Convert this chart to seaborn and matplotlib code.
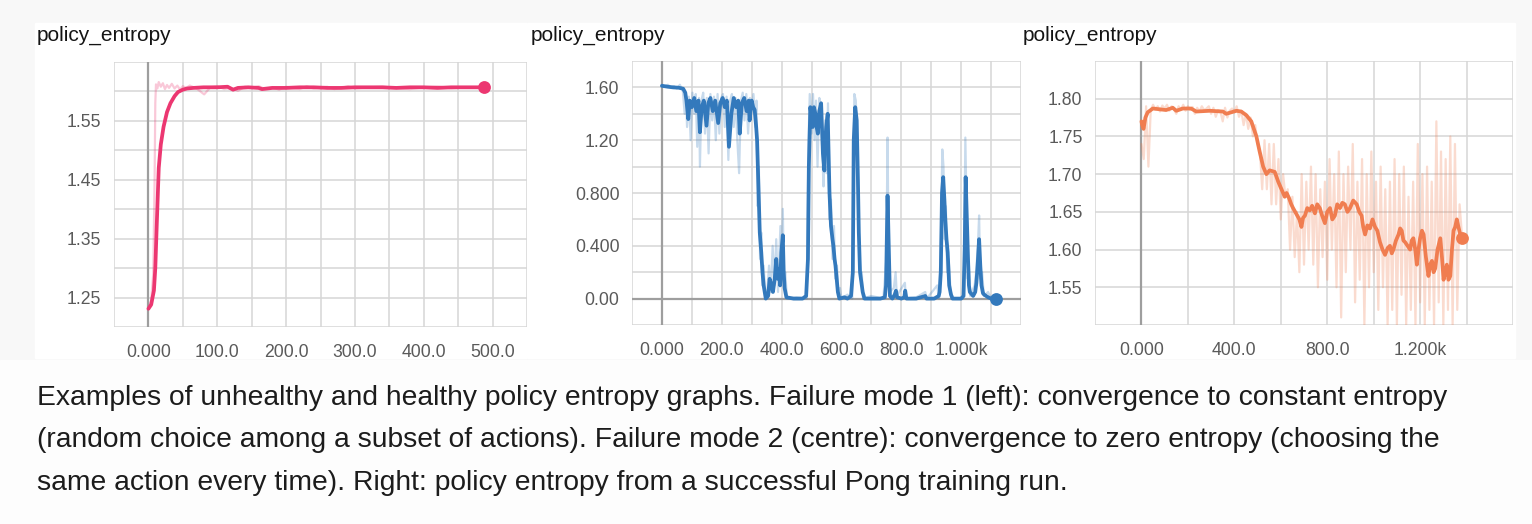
import matplotlib

matplotlib.use("Agg")
import matplotlib.pyplot as plt
import seaborn as sns
from matplotlib.patches import Rectangle

W, H = 1532, 524

# ---- left panel: converges to constant entropy ----
left_raw_x = [0, 4, 7, 9, 10, 11, 13, 15, 18, 21,
              24, 27, 30, 34, 38, 42, 46, 50, 55, 60,
              70, 81, 90, 100, 110, 120, 130, 140, 150, 160,
              170, 180, 190, 200, 210, 220, 230, 240, 250, 260,
              270, 280, 290, 300, 320, 340, 360, 380, 400, 420,
              440, 460, 480, 487]
left_raw_y = [1.231, 1.245, 1.29, 1.45, 1.58, 1.612, 1.605, 1.616, 1.608, 1.614,
              1.604, 1.611, 1.606, 1.613, 1.605, 1.610, 1.603, 1.609, 1.606, 1.610,
              1.605, 1.595, 1.607, 1.609, 1.604, 1.606, 1.601, 1.608, 1.606, 1.609,
              1.604, 1.607, 1.603, 1.608, 1.606, 1.604, 1.609, 1.605, 1.607, 1.608,
              1.604, 1.606, 1.609, 1.605, 1.607, 1.608, 1.606, 1.604, 1.607, 1.609,
              1.605, 1.607, 1.606, 1.607]
left_x = [0, 4, 8, 10, 12, 15, 18, 22, 27, 32,
          38, 43, 50, 56, 65, 80, 100, 115, 123, 130,
          145, 160, 165, 180, 200, 220, 240, 260, 280, 300,
          320, 340, 360, 380, 400, 420, 440, 460, 487]
left_y = [1.231, 1.238, 1.262, 1.30, 1.37, 1.47, 1.51, 1.54, 1.565, 1.58,
          1.592, 1.599, 1.603, 1.605, 1.606, 1.607, 1.607, 1.608, 1.603, 1.606,
          1.607, 1.606, 1.604, 1.606, 1.606, 1.607, 1.607, 1.606, 1.606, 1.607,
          1.607, 1.607, 1.606, 1.607, 1.607, 1.606, 1.607, 1.607, 1.607]

# ---- middle panel: collapses to zero entropy ----
mid_raw_x = [0, 10, 20, 30, 40, 50, 60, 70, 76, 80,
             84, 90, 96, 102, 108, 113, 118, 124, 127, 132,
             138, 144, 150, 156, 162, 168, 174, 180, 186, 192,
             198, 204, 210, 216, 222, 228, 234, 240, 246, 252,
             258, 264, 270, 276, 282, 288, 294, 300, 306, 312,
             316, 320, 324, 328, 332, 336, 340, 346, 352, 358,
             364, 370, 376, 382, 388, 392, 396, 400, 404, 408,
             412, 418, 450, 484, 486, 490, 494, 500, 505, 510,
             515, 520, 526, 532, 536, 540, 545, 550, 555, 560,
             565, 570, 575, 580, 585, 590, 595, 600, 620, 636,
             640, 643, 648, 652, 656, 660, 664, 668, 672, 700,
             740, 750, 754, 757, 760, 775, 781, 785, 812, 815,
             850, 880, 885, 920, 926, 932, 937, 941, 945, 949,
             953, 958, 965, 975, 1005, 1010, 1014, 1018, 1022, 1026,
             1030, 1045, 1050, 1056, 1060, 1064, 1070, 1076, 1090, 1100,
             1115]
mid_raw_y = [1.62, 1.61, 1.62, 1.60, 1.61, 1.59, 1.62, 1.57, 1.40, 1.55,
             1.30, 1.53, 1.20, 1.56, 1.40, 1.55, 1.15, 1.52, 1.00, 1.50,
             1.56, 1.25, 1.52, 1.10, 1.55, 1.35, 1.53, 1.20, 1.55, 1.25,
             1.52, 1.55, 1.30, 1.53, 1.05, 1.50, 1.55, 1.30, 1.52, 1.20,
             0.95, 1.50, 1.56, 1.35, 1.55, 1.25, 1.52, 1.45, 1.55, 1.30,
             1.50, 0.70, 1.00, 0.30, 0.50, 0.10, 0.25, 0.00, 0.05, 0.25,
             0.05, 0.40, 0.10, 0.45, 0.05, 0.30, 0.55, 0.15, 0.68, 0.10,
             0.20, 0.00, 0.01, 0.00, 0.40, 1.20, 1.55, 1.25, 1.55, 1.20,
             1.50, 1.00, 1.52, 1.45, 1.10, 0.85, 1.35, 0.95, 1.48, 0.60,
             0.75, 0.30, 0.55, 0.15, 0.25, 0.02, 0.08, 0.00, 0.03, 0.00,
             0.80, 1.55, 1.50, 1.20, 0.70, 0.35, 0.15, 0.20, 0.00, 0.02,
             0.00, 0.30, 1.22, 0.50, 0.05, 0.08, 0.20, 0.02, 0.12, 0.00,
             0.01, 0.05, 0.00, 0.10, 0.00, 0.40, 1.13, 1.00, 0.45, 0.70,
             0.20, 0.30, 0.05, 0.00, 0.00, 0.25, 1.22, 0.70, 0.15, 0.25,
             0.02, 0.10, 0.20, 0.40, 0.63, 0.15, 0.20, 0.02, 0.05, 0.00,
             0.00]
mid_x = [0, 20, 38, 55, 71, 78, 82, 88, 93, 100,
         108, 115, 122, 127, 133, 140, 149, 155, 162, 170,
         178, 188, 195, 203, 210, 217, 224, 232, 240, 248,
         255, 260, 267, 275, 283, 290, 293, 300, 305, 310,
         315, 318, 322, 327, 332, 336, 340, 347, 355, 360,
         366, 371, 377, 382, 387, 391, 395, 399, 404, 407,
         410, 416, 440, 470, 482, 488, 491, 496, 500, 504,
         508, 513, 517, 521, 526, 532, 535, 538, 543, 546,
         549, 554, 557, 560, 565, 570, 573, 577, 580, 584,
         588, 593, 610, 620, 632, 638, 641, 646, 651, 655,
         658, 662, 667, 671, 677, 700, 730, 745, 749, 754,
         758, 762, 770, 778, 782, 786, 800, 810, 813, 817,
         850, 880, 884, 910, 925, 928, 932, 936, 940, 944,
         947, 951, 955, 960, 966, 971, 1000, 1008, 1012, 1015,
         1019, 1023, 1026, 1029, 1040, 1047, 1051, 1055, 1060, 1064,
         1068, 1073, 1077, 1090, 1100, 1115]
mid_y = [1.612, 1.605, 1.600, 1.598, 1.590, 1.560, 1.50, 1.36, 1.50, 1.45,
         1.52, 1.42, 1.50, 1.26, 1.45, 1.50, 1.31, 1.48, 1.52, 1.42,
         1.50, 1.33, 1.48, 1.52, 1.45, 1.50, 1.15, 1.40, 1.52, 1.45,
         1.50, 1.25, 1.48, 1.52, 1.42, 1.50, 1.35, 1.50, 1.45, 1.43,
         1.30, 1.20, 0.90, 0.50, 0.35, 0.20, 0.10, 0.00, 0.02, 0.15,
         0.10, 0.05, 0.15, 0.30, 0.15, 0.22, 0.10, 0.35, 0.48, 0.20,
         0.08, 0.01, 0.00, 0.00, 0.02, 0.30, 1.00, 1.45, 1.38, 1.30,
         1.45, 1.40, 1.30, 1.25, 1.42, 1.48, 1.30, 1.10, 0.97, 1.20,
         1.30, 1.40, 1.10, 0.80, 0.55, 0.45, 0.40, 0.30, 0.25, 0.15,
         0.05, 0.00, 0.01, 0.00, 0.02, 0.20, 1.20, 1.45, 1.35, 0.90,
         0.50, 0.20, 0.12, 0.05, 0.00, 0.00, 0.00, 0.01, 0.10, 0.78,
         0.40, 0.02, 0.00, 0.03, 0.06, 0.01, 0.00, 0.01, 0.06, 0.00,
         0.00, 0.02, 0.00, 0.00, 0.02, 0.05, 0.20, 0.80, 0.92, 0.75,
         0.60, 0.45, 0.35, 0.10, 0.03, 0.00, 0.00, 0.02, 0.40, 0.92,
         0.60, 0.30, 0.10, 0.05, 0.02, 0.05, 0.12, 0.25, 0.45, 0.25,
         0.10, 0.04, 0.03, 0.01, 0.00, 0.00]

# ---- right panel: healthy Pong run ----
right_raw_x = [0, 10, 20, 30, 40, 50, 60, 70, 80, 90,
               100, 110, 120, 130, 140, 150, 160, 170, 180, 190,
               200, 210, 220, 230, 240, 250, 260, 270, 280, 290,
               300, 310, 320, 330, 340, 350, 360, 370, 380, 390,
               400, 410, 420, 430, 440, 450, 460, 470, 480, 490,
               500, 510, 520, 530, 540, 550, 560, 570, 580, 590,
               600, 610, 620, 630, 640, 650, 660, 670, 680, 690,
               700, 710, 720, 730, 740, 750, 760, 770, 780, 790,
               800, 810, 820, 830, 840, 850, 860, 870, 880, 890,
               900, 910, 920, 930, 940, 950, 960, 970, 980, 990,
               1000, 1010, 1020, 1030, 1040, 1050, 1060, 1070, 1080, 1090,
               1100, 1110, 1120, 1130, 1140, 1150, 1160, 1170, 1180, 1190,
               1200, 1210, 1220, 1230, 1240, 1250, 1260, 1270, 1280, 1290,
               1300, 1310, 1320, 1330, 1340, 1350, 1360, 1370, 1380]
right_raw_y = [1.74, 1.72, 1.79, 1.71, 1.785, 1.792, 1.786, 1.79, 1.783, 1.791,
               1.787, 1.792, 1.784, 1.79, 1.786, 1.78, 1.79, 1.786, 1.792, 1.784,
               1.79, 1.785, 1.789, 1.78, 1.788, 1.783, 1.79, 1.785, 1.787, 1.79,
               1.78, 1.788, 1.776, 1.785, 1.783, 1.77, 1.788, 1.775, 1.784, 1.787,
               1.782, 1.79, 1.776, 1.784, 1.765, 1.78, 1.76, 1.775, 1.75, 1.765,
               1.74, 1.73, 1.68, 1.745, 1.68, 1.74, 1.66, 1.74, 1.66, 1.72,
               1.64, 1.70, 1.67, 1.68, 1.60, 1.67, 1.59, 1.65, 1.57, 1.70,
               1.58, 1.69, 1.60, 1.71, 1.58, 1.70, 1.55, 1.68, 1.59, 1.69,
               1.56, 1.72, 1.60, 1.70, 1.55, 1.73, 1.51, 1.70, 1.57, 1.71,
               1.60, 1.74, 1.53, 1.69, 1.56, 1.72, 1.50, 1.70, 1.55, 1.73,
               1.57, 1.69, 1.52, 1.71, 1.55, 1.68, 1.50, 1.69, 1.52, 1.72,
               1.50, 1.70, 1.54, 1.71, 1.50, 1.67, 1.52, 1.69, 1.50, 1.74,
               1.53, 1.70, 1.50, 1.71, 1.52, 1.69, 1.50, 1.77, 1.53, 1.73,
               1.50, 1.72, 1.52, 1.75, 1.50, 1.74, 1.52, 1.66, 1.62]
right_x = [0, 3, 9, 17, 27, 49, 78, 106, 135, 150,
           178, 214, 236, 294, 351, 365, 409, 430, 452, 473,
           495, 509, 524, 538, 552, 574, 589, 603,
           617, 625, 636, 645, 653, 662, 671, 680, 689, 696,
           704, 714, 725, 735, 747, 757, 768, 778, 790, 800,
           812, 822, 833, 843, 855, 865, 876, 887, 898, 912,
           927, 938, 948, 955, 963, 973, 984, 995, 1006, 1016,
           1027, 1038, 1049, 1060, 1070, 1078, 1085, 1096, 1107, 1114,
           1121, 1128, 1135, 1146, 1157, 1164, 1171, 1179, 1186, 1193,
           1200, 1208, 1215, 1225, 1236, 1243, 1251, 1258, 1265, 1275,
           1287, 1294, 1301, 1308, 1315, 1322, 1330, 1337, 1344, 1351,
           1358, 1365, 1373, 1380]
right_y = [1.770, 1.765, 1.760, 1.775, 1.782, 1.787, 1.786, 1.785, 1.788, 1.784,
           1.787, 1.787, 1.783, 1.784, 1.783, 1.780, 1.784, 1.783, 1.778, 1.770,
           1.750, 1.730, 1.710, 1.700, 1.705, 1.703, 1.690, 1.680,
           1.670, 1.675, 1.668, 1.660, 1.655, 1.650, 1.645, 1.640, 1.630, 1.642,
           1.645, 1.655, 1.652, 1.658, 1.648, 1.660, 1.655, 1.645, 1.635, 1.650,
           1.655, 1.640, 1.645, 1.660, 1.655, 1.662, 1.660, 1.650, 1.655, 1.665,
           1.660, 1.650, 1.645, 1.630, 1.620, 1.632, 1.628, 1.640, 1.630, 1.625,
           1.610, 1.600, 1.593, 1.602, 1.605, 1.595, 1.600, 1.612, 1.620, 1.628,
           1.625, 1.612, 1.610, 1.605, 1.600, 1.612, 1.615, 1.600, 1.580, 1.600,
           1.615, 1.625, 1.620, 1.590, 1.565, 1.580, 1.585, 1.570, 1.575, 1.600,
           1.615, 1.590, 1.560, 1.570, 1.580, 1.560, 1.565, 1.600, 1.625, 1.630,
           1.640, 1.630, 1.620, 1.615]

# ---- ticks and labels ----
left_xticks = [-50, 0, 50, 100, 150, 200, 250, 300, 350, 400, 450, 500, 550]
left_xlabels = ["", "0.000", "", "100.0", "", "200.0", "", "300.0", "", "400.0", "", "500.0", ""]
left_yticks = [1.20, 1.25, 1.30, 1.35, 1.40, 1.45, 1.50, 1.55, 1.60, 1.65]
left_ylabels = ["", "1.25", "", "1.35", "", "1.45", "", "1.55", "", ""]

mid_xticks = [-100, 0, 100, 200, 300, 400, 500, 600, 700, 800, 900, 1000, 1100, 1200]
mid_xlabels = ["", "0.000", "", "200.0", "", "400.0", "", "600.0", "", "800.0", "", "1.000k", "", ""]
mid_yticks = [-0.2, 0.0, 0.2, 0.4, 0.6, 0.8, 1.0, 1.2, 1.4, 1.6, 1.8]
mid_ylabels = ["", "0.00", "", "0.400", "", "0.800", "", "1.20", "", "1.60", ""]

right_xticks = [-200, 0, 200, 400, 600, 800, 1000, 1200, 1400, 1600]
right_xlabels = ["", "0.000", "", "400.0", "", "800.0", "", "1.200k", "", ""]
right_yticks = [1.50, 1.55, 1.60, 1.65, 1.70, 1.75, 1.80, 1.85]
right_ylabels = ["", "1.55", "1.60", "1.65", "1.70", "1.75", "1.80", ""]

title = "policy_entropy"
caption = [
    "Examples of unhealthy and healthy policy entropy graphs. Failure mode 1 (left): convergence to constant entropy",
    "(random choice among a subset of actions). Failure mode 2 (centre): convergence to zero entropy (choosing the",
    "same action every time). Right: policy entropy from a successful Pong training run.",
]

sns.set_theme(style="white")
plt.rcParams["font.family"] = ["Liberation Sans", "DejaVu Sans"]

GRID = "#d6d6d6"
ZERO = "#9e9e9e"


def px_rect(x0, y0, x1, y1):
    return [x0 / W, 1 - y1 / H, (x1 - x0) / W, (y1 - y0) / H]


def draw_panel(fig, box, raw_x, raw_y, x, y, color, xticks, xlabels, yticks, ylabels, hline=False):
    ax = fig.add_axes(px_rect(*box))
    ax.set_facecolor("white")
    sns.lineplot(x=raw_x, y=raw_y, ax=ax, color=color, alpha=0.27, lw=1.6,
                 estimator=None, sort=False)
    sns.lineplot(x=x, y=y, ax=ax, color=color, lw=2.7, estimator=None, sort=False)
    sns.scatterplot(x=[x[-1]], y=[y[-1]], ax=ax, color=color, s=85, linewidth=0,
                    zorder=5, clip_on=False)
    ax.axvline(0, color=ZERO, lw=1.6, zorder=1.5)
    if hline:
        ax.axhline(0, color=ZERO, lw=1.6, zorder=1.5)
    ax.set_xlim(xticks[0], xticks[-1])
    ax.set_ylim(yticks[0], yticks[-1])
    ax.set_xticks(xticks, xlabels)
    ax.set_yticks(yticks, ylabels)
    ax.grid(True, color=GRID, lw=1.1)
    ax.set_axisbelow(True)
    for s in ax.spines.values():
        s.set_visible(False)
    ax.tick_params(axis="both", which="major", length=5, width=1.1, color=GRID,
                   labelsize=12.7, labelcolor="#5a5a5a")
    ax.tick_params(axis="y", pad=4)
    ax.tick_params(axis="x", pad=7)
    ax.set_xlabel("")
    ax.set_ylabel("")
    return ax


fig = plt.figure(figsize=(W / 100, H / 100), dpi=100, facecolor="#f8f8f8")

# white screenshot panels and caption background
for x0, x1 in [(35, 527), (527, 1020), (1020, 1515)]:
    fig.add_artist(Rectangle((x0 / W, 1 - 358 / H), (x1 - x0) / W, (358 - 23) / H,
                             transform=fig.transFigure, color="white", zorder=0))
fig.add_artist(Rectangle((0, 0), 1, 1 - 360 / H, transform=fig.transFigure,
                         color="#fdfdfd", zorder=0))

draw_panel(fig, (114, 62, 527, 327), left_raw_x, left_raw_y, left_x, left_y, "#ec3771",
           left_xticks, left_xlabels, left_yticks, left_ylabels)
draw_panel(fig, (632, 61, 1021, 325), mid_raw_x, mid_raw_y, mid_x, mid_y, "#3379bc",
           mid_xticks, mid_xlabels, mid_yticks, mid_ylabels, hline=True)
draw_panel(fig, (1095, 61, 1513, 325), right_raw_x, right_raw_y, right_x, right_y, "#f07d50",
           right_xticks, right_xlabels, right_yticks, right_ylabels)

for tx in [37, 531, 1023]:
    fig.text(tx / W, 1 - 35 / H, title, fontsize=15, color="#141414",
             ha="left", va="center")

texts = []
for line, cy in zip(caption, [398, 440, 483]):
    texts.append(fig.text(37 / W, 1 - cy / H, line, fontsize=18, color="#1c1c1c",
                          ha="left", va="center"))

# fit caption width to the reference (first line spans about 1411 px)
fig.canvas.draw()
width = texts[0].get_window_extent().width
size = 18 * 1411 / width
for t in texts:
    t.set_fontsize(size)

fig.savefig("out.png", dpi=100, facecolor=fig.get_facecolor())
